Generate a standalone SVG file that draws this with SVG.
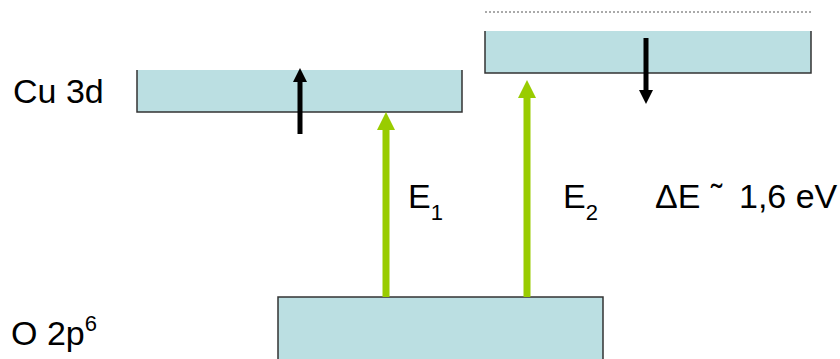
<svg xmlns="http://www.w3.org/2000/svg" width="840" height="359" viewBox="0 0 840 359">
<style>
.band{fill:#BBDFE2;stroke:none}
.edge{fill:none;stroke:#333;stroke-width:1.5}
.lbl{font-family:"Liberation Sans",Arial,sans-serif;font-size:34px;fill:#000}
.sub{font-size:22px}
.green{stroke:#99CC00;stroke-width:7;fill:none}
.spin{stroke:#000;stroke-width:5;fill:none}
</style>
<defs>
<marker id="gh" markerUnits="userSpaceOnUse" markerWidth="18" markerHeight="18" refX="0" refY="9" orient="auto" viewBox="0 0 18 18">
<path d="M0,0 L18,9 L0,18 z" fill="#99CC00"/>
</marker>
<marker id="bh" markerUnits="userSpaceOnUse" markerWidth="14" markerHeight="14" refX="0" refY="7" orient="auto" viewBox="0 0 14 14">
<path d="M0,0 L14,7 L0,14 z" fill="#000"/>
</marker>
</defs>
<rect width="840" height="359" fill="#fff"/>
<g id="cu3d">
<rect class="band" x="137" y="70" width="325" height="42"/>
<path class="edge" d="M137,70 V112 H462 V70"/>
<path class="spin" d="M300,134 V82" marker-end="url(#bh)"/>
<text class="lbl" x="13" y="103">Cu 3d</text>
</g>
<g id="upper">
<line x1="485" y1="12" x2="811" y2="12" stroke="#555" stroke-width="1" stroke-dasharray="2,2"/>
<rect class="band" x="485" y="31" width="326" height="42"/>
<path class="edge" d="M485,31 V73 H811 V31"/>
<path class="spin" d="M646,38 V90" marker-end="url(#bh)"/>
</g>
<g id="o2p">
<rect class="band" x="278" y="297" width="325" height="70"/>
<path class="edge" d="M278,362 V297 H603 V362"/>
<text class="lbl" x="11" y="345">O 2p<tspan class="sub" dy="-14">6</tspan></text>
</g>
<g id="connectors">
<path class="green" d="M386,297 V130" marker-end="url(#gh)"/>
<path class="green" d="M527,297 V98" marker-end="url(#gh)"/>
</g>
<g id="labels">
<text class="lbl" x="408" y="208">E<tspan class="sub" dy="12">1</tspan></text>
<text class="lbl" x="563" y="208">E<tspan class="sub" dy="12">2</tspan></text>
<text class="lbl" x="655" y="208">ΔE <tspan x="711" y="208">˜</tspan><tspan x="739" y="208">1,6 eV</tspan></text>
</g>
</svg>
